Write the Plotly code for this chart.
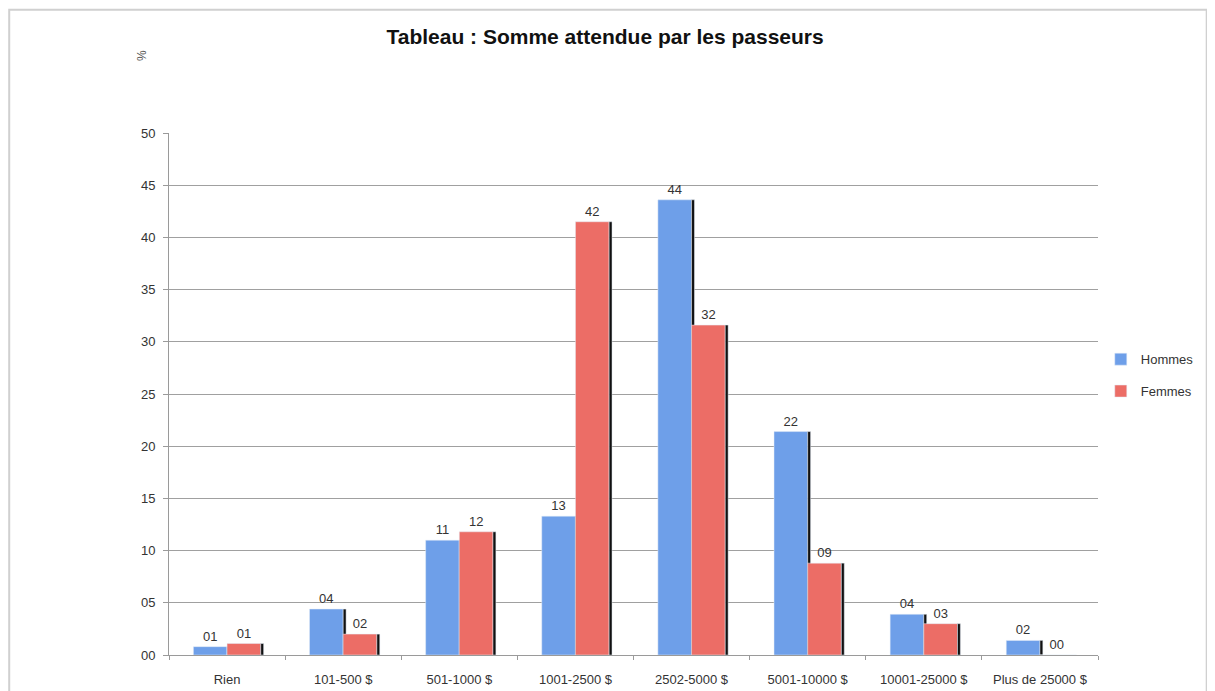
import plotly.graph_objects as go

categories = ["Rien", "101-500 $", "501-1000 $", "1001-2500 $", "2502-5000 $",
              "5001-10000 $", "10001-25000 $", "Plus de 25000 $"]
hommes = [0.8, 4.4, 11.0, 13.3, 43.6, 21.4, 3.9, 1.4]
femmes = [1.1, 2.0, 11.8, 41.5, 31.6, 8.8, 3.0, 0.0]
hommes_labels = ["01", "04", "11", "13", "44", "22", "04", "02"]
femmes_labels = ["01", "02", "12", "42", "32", "09", "03", "00"]
y_ticks = [0, 5, 10, 15, 20, 25, 30, 35, 40, 45, 50]

BLUE = "#6e9fe9"
RED = "#ec6d66"
BAR_W = 0.29
SH_W = 0.025
FONT = "Liberation Sans, Arial, sans-serif"

fig = go.Figure()
fig.add_trace(go.Bar(
    x=categories, y=hommes, name="Hommes", marker_color=BLUE,
    width=BAR_W, offset=-BAR_W, text=hommes_labels, textposition="outside",
    textfont=dict(size=13, color="#333333"), cliponaxis=False,
    legendgroup="h"))
fig.add_trace(go.Bar(
    x=categories, y=hommes, marker_color="#111111", width=SH_W, offset=0,
    showlegend=False, hoverinfo="skip", legendgroup="h"))
fig.add_trace(go.Bar(
    x=categories, y=femmes, name="Femmes", marker_color=RED,
    width=BAR_W, offset=0, text=femmes_labels, textposition="outside",
    textfont=dict(size=13, color="#333333"), cliponaxis=False,
    legendgroup="f"))
fig.add_trace(go.Bar(
    x=categories, y=femmes, marker_color="#111111", width=SH_W, offset=BAR_W,
    showlegend=False, hoverinfo="skip", legendgroup="f"))

fig.update_layout(
    width=1199, height=683,
    barmode="overlay",
    paper_bgcolor="white", plot_bgcolor="white",
    font=dict(family=FONT, size=13, color="#333333"),
    margin=dict(l=161, r=109, t=125, b=36, autoexpand=False),
    title=dict(text="<b>Tableau : Somme attendue par les passeurs</b>",
               x=0.498, xanchor="center", y=1 - 29 / 683, yanchor="middle",
               font=dict(family=FONT, size=21, color="#111111")),
    legend=dict(x=1.003, y=0.536, xanchor="left", yanchor="middle",
                font=dict(size=13, color="#333333"), tracegroupgap=12,
                bgcolor="rgba(0,0,0,0)"),
    xaxis=dict(type="category", showline=True, linecolor="#9a9a9a", linewidth=1,
               ticks="outside", tickson="boundaries", ticklen=4, tickcolor="#9a9a9a",
               showgrid=False, tickfont=dict(size=13, color="#333333"),
               ticklabelstandoff=12, automargin=False),
    yaxis=dict(range=[0, 50], tickvals=y_ticks, tickformat="02d",
               showline=True, linecolor="#9a9a9a", linewidth=1,
               ticks="outside", ticklen=5, tickcolor="#9a9a9a",
               showgrid=True, gridcolor="#a0a0a0", gridwidth=1,
               zeroline=False, tickfont=dict(size=13, color="#333333"),
               ticklabelstandoff=5, automargin=False),
    annotations=[dict(text="%", textangle=-90, xref="paper", yref="paper",
                      x=-0.038, y=1.163, showarrow=False,
                      font=dict(size=12, color="#555555"))],
    shapes=[dict(type="rect", xref="paper", yref="paper",
                 x0=-0.172, x1=1.117, y0=-0.1, y1=1.236,
                 line=dict(color="#d0d0d0", width=2), layer="below")],
)

fig.write_html("out.html")
